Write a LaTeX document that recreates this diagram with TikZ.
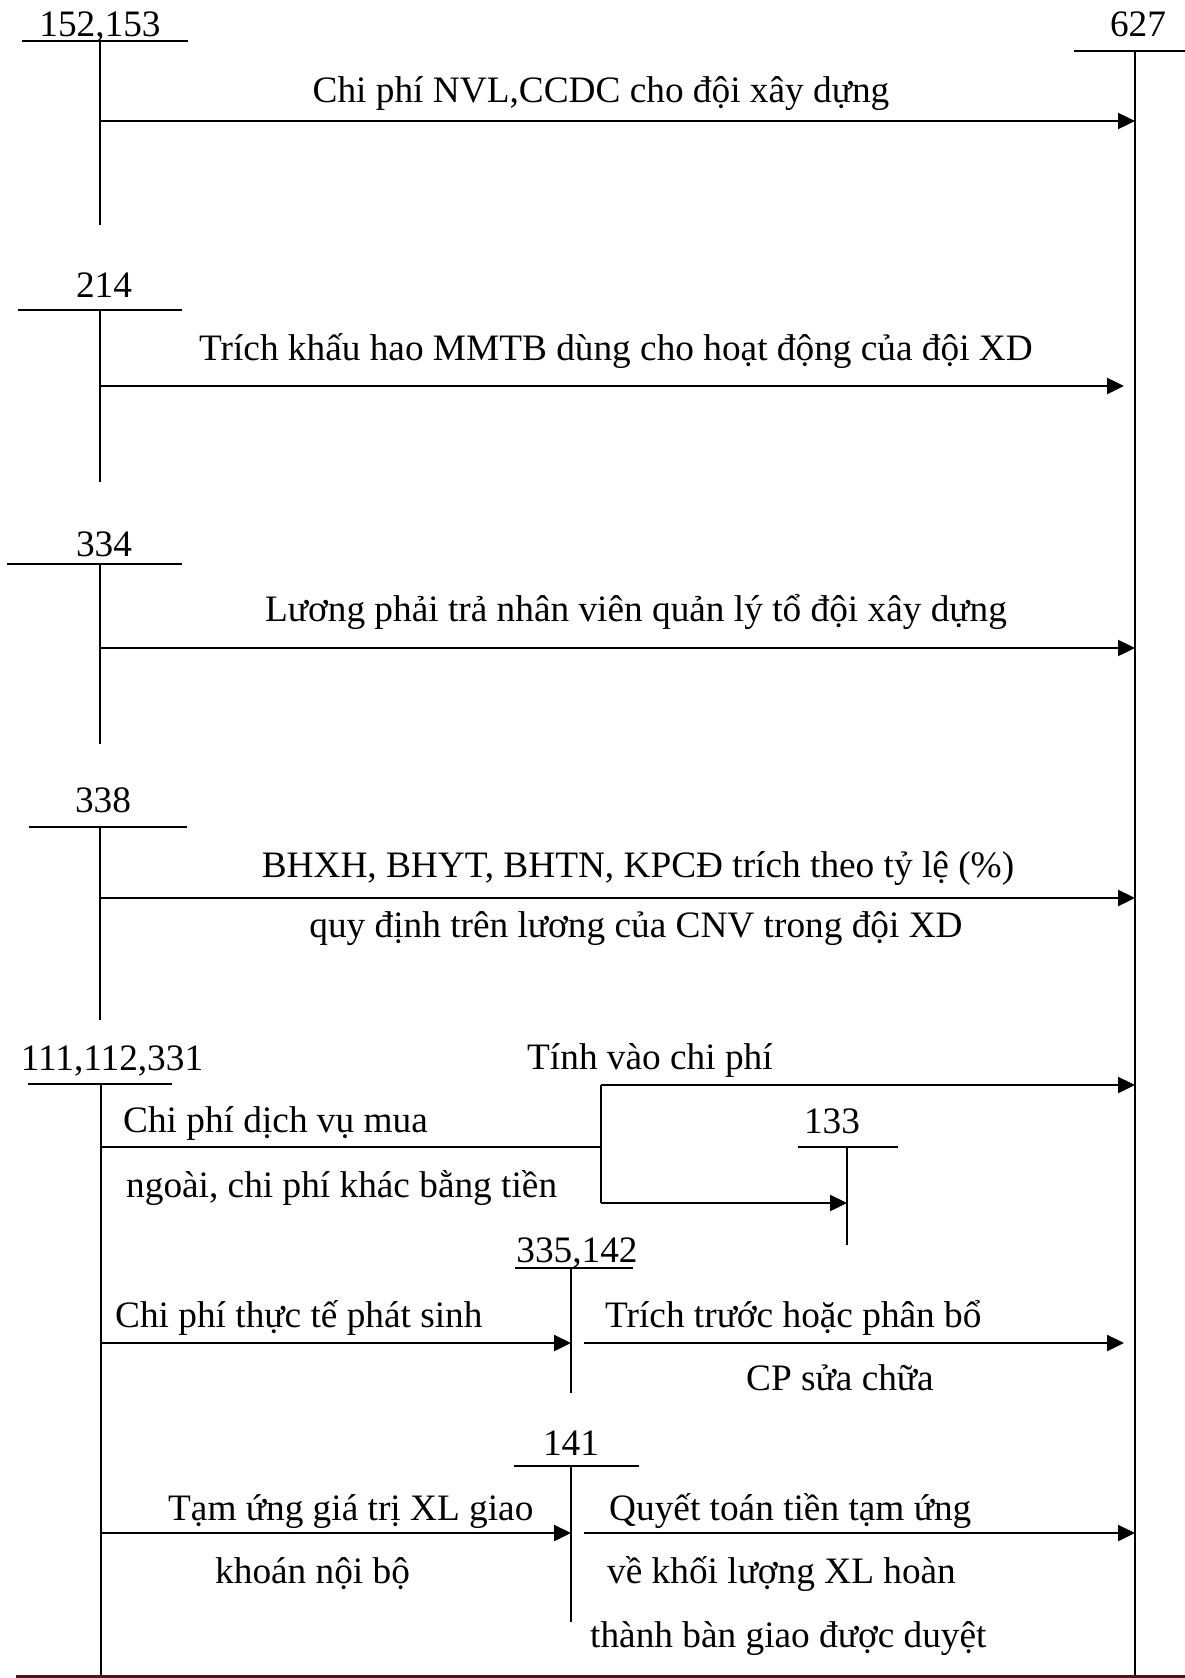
\documentclass[tikz,border=0pt]{standalone}
\usepackage{fontspec}
\setmainfont{Liberation Serif}
\usetikzlibrary{arrows.meta}
\definecolor{botline}{RGB}{80,20,20}
\begin{document}
\begin{tikzpicture}[x=1pt,y=-1pt,line width=2.4pt,
  every node/.style={font=\fontsize{37.3}{44}\selectfont, inner sep=0pt},
  acct/.style={anchor=base},
  lbl/.style={anchor=base},
  lblw/.style={anchor=base west},
  arr/.style={-{Triangle[length=17pt,width=16pt]}},
  tacc/.style={line width=2.4pt}]
\useasboundingbox (0,0) rectangle (1185,1678);

% ---- 152,153
\node[acct] (n152) at (100,37) {152,153};
\draw[tacc] (22,41) -- (188,41);
\draw[tacc] (100,41) -- (100,225);
% ---- 627
\node[acct] (n627) at (1138,37) {627};
\draw[tacc] (1074,51) -- (1185,51);
\draw[tacc] (1135,51) -- (1135,1678);

\coordinate (a1s) at (100,121); \coordinate (a1e) at (1135,121);
\draw[arr] (a1s) -- (a1e);
\node[lbl] (t1) at (601,102) {Chi phí NVL,CCDC cho đội xây dựng};

% ---- 214
\node[acct] (n214) at (104,297) {214};
\draw[tacc] (18,310) -- (182,310);
\draw[tacc] (100,310) -- (100,482);
\coordinate (a2s) at (100,386); \coordinate (a2e) at (1124,386);
\draw[arr] (a2s) -- (a2e);
\node[lbl] (t2) at (616,360) {Trích khấu hao MMTB dùng cho hoạt động của đội XD};

% ---- 334
\node[acct] (n334) at (104,556) {334};
\draw[tacc] (7,564) -- (182,564);
\draw[tacc] (100,564) -- (100,744);
\coordinate (a3s) at (100,648); \coordinate (a3e) at (1135,648);
\draw[arr] (a3s) -- (a3e);
\node[lbl] (t3) at (636,621) {Lương phải trả nhân viên quản lý tổ đội xây dựng};

% ---- 338
\node[acct] (n338) at (103,812) {338};
\draw[tacc] (29,827) -- (187,827);
\draw[tacc] (100,827) -- (100,1020);
\coordinate (a4s) at (100,898); \coordinate (a4e) at (1135,898);
\draw[arr] (a4s) -- (a4e);
\node[lbl] (t4a) at (638,877) {BHXH, BHYT, BHTN, KPCĐ trích theo tỷ lệ (\%)};
\node[lbl] (t4b) at (636,937) {quy định trên lương của CNV trong đội XD};

% ---- 111,112,331
\node[acct] (n111) at (112,1070) {111,112,331};
\draw[tacc] (28,1084) -- (172,1084);
\draw[tacc] (101,1084) -- (101,1678);

\coordinate (b0) at (101,1147); \coordinate (b1) at (601,1147);
\coordinate (bt) at (601,1085); \coordinate (bb) at (601,1203);
\draw (b0) -- (b1);
\draw (bt) -- (bb);
\coordinate (bte) at (1135,1085);
\draw[arr] (bt) -- (bte);
\node[lblw] (t5a) at (526,1069) {Tính vào chi phí};
\node[lblw] (t5b) at (122,1132) {Chi phí dịch vụ mua};
\node[lblw] (t5c) at (125,1197) {ngoài, chi phí khác bằng tiền};

% ---- 133
\node[acct] (n133) at (832,1133) {133};
\draw[tacc] (798,1147) -- (898,1147);
\draw[tacc] (847,1147) -- (847,1245);
\coordinate (bbe) at (847,1203);
\draw[arr] (bb) -- (bbe);

% ---- 335,142
\node[acct] (n335) at (577,1262) {335,142};
\draw[tacc] (515,1268) -- (633,1268);
\draw[tacc] (571,1268) -- (571,1393);
\coordinate (c1s) at (101,1343); \coordinate (c1e) at (571,1343);
\draw[arr] (c1s) -- (c1e);
\node[lblw] (t6a) at (114,1327) {Chi phí thực tế phát sinh};
\coordinate (c2s) at (584,1343); \coordinate (c2e) at (1124,1343);
\draw[arr] (c2s) -- (c2e);
\node[lblw] (t6b) at (604,1327) {Trích trước hoặc phân bổ};
\node[lblw] (t6c) at (745,1390) {CP sửa chữa};

% ---- 141
\node[acct] (n141) at (571,1455) {141};
\draw[tacc] (514,1466) -- (639,1466);
\draw[tacc] (571,1466) -- (571,1622);
\coordinate (d1s) at (101,1533); \coordinate (d1e) at (571,1533);
\draw[arr] (d1s) -- (d1e);
\node[lblw] (t7a) at (167,1520) {Tạm ứng giá trị XL giao};
\node[lblw] (t7b) at (214,1583) {khoán nội bộ};
\coordinate (d2s) at (584,1533); \coordinate (d2e) at (1135,1533);
\draw[arr] (d2s) -- (d2e);
\node[lblw] (t7c) at (608,1520) {Quyết toán tiền tạm ứng};
\node[lblw] (t7d) at (606,1583) {về khối lượng XL hoàn};
\node[lblw] (t7e) at (589,1647) {thành bàn giao được duyệt};

% ---- bottom rule
\draw[botline,line width=3.5pt] (16,1676.25) -- (1185,1676.25);
\end{tikzpicture}
\end{document}
